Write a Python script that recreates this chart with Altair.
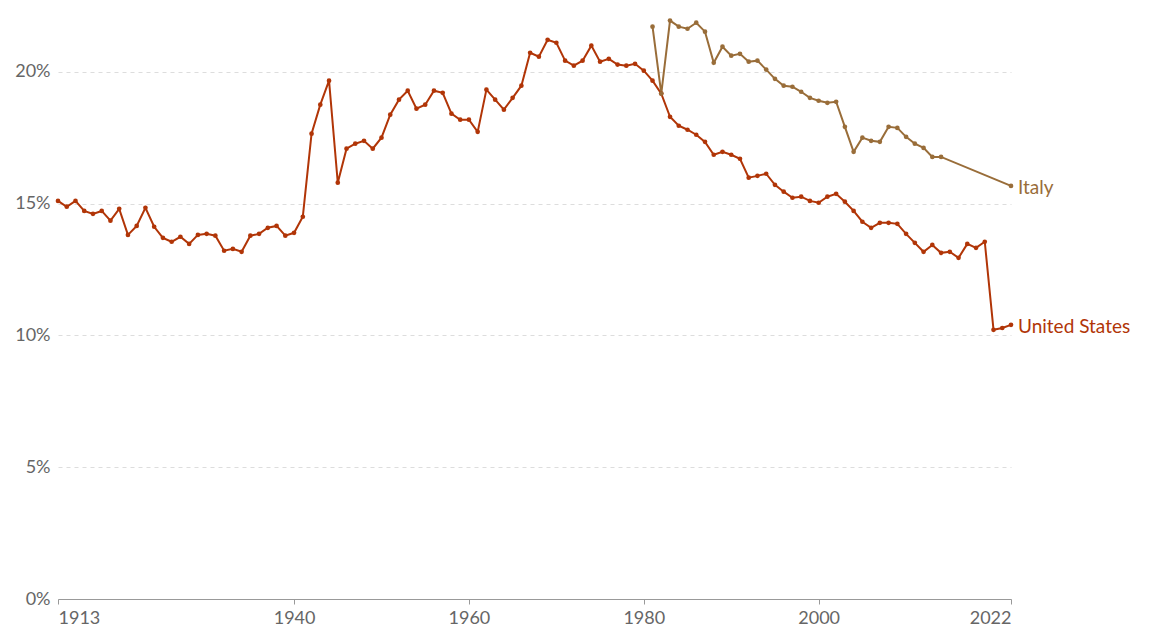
import altair as alt
import pandas as pd

us_years = list(range(1913, 2023))
us_values = [
    15.10, 14.88, 15.10, 14.72, 14.61, 14.72, 14.35, 14.80, 13.81, 14.15,
    14.84, 14.12, 13.70, 13.55, 13.74, 13.47, 13.81, 13.85, 13.78, 13.21,
    13.28, 13.17, 13.78, 13.85, 14.08, 14.15, 13.78, 13.89, 14.50, 17.65,
    18.75, 19.66, 15.79, 17.08, 17.27, 17.38, 17.08, 17.50, 18.37, 18.94,
    19.28, 18.60, 18.75, 19.28, 19.20, 18.41, 18.18, 18.18, 17.72, 19.32,
    18.94, 18.56, 19.01, 19.47, 20.72, 20.57, 21.21, 21.10, 20.42, 20.23,
    20.42, 20.99, 20.38, 20.49, 20.27, 20.23, 20.30, 20.04, 19.66, 19.17,
    18.29, 17.95, 17.80, 17.61, 17.34, 16.85, 16.96, 16.85, 16.70, 15.98,
    16.05, 16.13, 15.71, 15.45, 15.22, 15.26, 15.10, 15.03, 15.26, 15.37,
    15.07, 14.72, 14.31, 14.08, 14.27, 14.27, 14.23, 13.85, 13.51, 13.17,
    13.43, 13.13, 13.17, 12.94, 13.47, 13.32, 13.55, 10.21, 10.28, 10.40,
]

italy_years = list(range(1981, 2015)) + [2022]
italy_values = [
    21.71, 19.17, 21.94, 21.71, 21.63, 21.86, 21.52, 20.34, 20.95, 20.61,
    20.68, 20.38, 20.42, 20.08, 19.73, 19.47, 19.43, 19.24, 19.01, 18.90,
    18.82, 18.86, 17.91, 16.96, 17.50, 17.38, 17.34, 17.91, 17.87, 17.53,
    17.27, 17.11, 16.77, 16.77, 15.67,
]

x_ticks = [1913, 1940, 1960, 1980, 2000, 2022]
y_ticks = [0, 5, 10, 15, 20]

countries = ["United States", "Italy"]
colors = ["#B13507", "#996D39"]

df = pd.concat([
    pd.DataFrame({"year": us_years, "value": us_values, "country": "United States"}),
    pd.DataFrame({"year": italy_years, "value": italy_values, "country": "Italy"}),
])

color = alt.Color("country:N", scale=alt.Scale(domain=countries, range=colors), legend=None)

x = alt.X("year:Q",
          scale=alt.Scale(domain=[1913, 2022], nice=False, zero=False),
          axis=alt.Axis(values=x_ticks, format="d", title=None, grid=False,
                        domainColor="#999", tickColor="#999", tickSize=5,
                        labelColor="#666", labelFontSize=18, labelFont="Lato",
                        labelPadding=5, labelFlush=True))
y = alt.Y("value:Q",
          scale=alt.Scale(domain=[0, 22], nice=False),
          axis=alt.Axis(values=y_ticks, labelExpr="datum.value + '%'", title=None,
                        domain=False, ticks=False, grid=True, gridDash=[4, 4],
                        gridColor="#dddddd", gridWidth=1,
                        labelColor="#666", labelFontSize=18, labelFont="Lato",
                        labelPadding=8))

base = alt.Chart(df)

lines = base.mark_line(strokeWidth=2).encode(x=x, y=y, color=color, detail="country:N")
points = base.mark_circle(size=22, opacity=1).encode(x=x, y=y, color=color)

last = df.loc[df.groupby("country")["year"].idxmax().values] if False else pd.concat(
    [g.loc[[g["year"].idxmax()]] for _, g in df.reset_index(drop=True).groupby("country")])
labels = alt.Chart(last).mark_text(align="left", baseline="middle", dx=7, dy=2, fontSize=19,
                                   font="Lato").encode(
    x=alt.X("year:Q"), y=alt.Y("value:Q"), text="country:N", color=color)

chart = alt.layer(lines, points, labels).properties(
    width=953, height=580,
    padding={"left": 50, "top": 11, "right": 150, "bottom": 30},
    autosize=alt.AutoSizeParams(type="none"),
).configure(background="white").configure_view(stroke=None)

chart.save("out.html", embed_options={"renderer": "svg", "actions": False})
